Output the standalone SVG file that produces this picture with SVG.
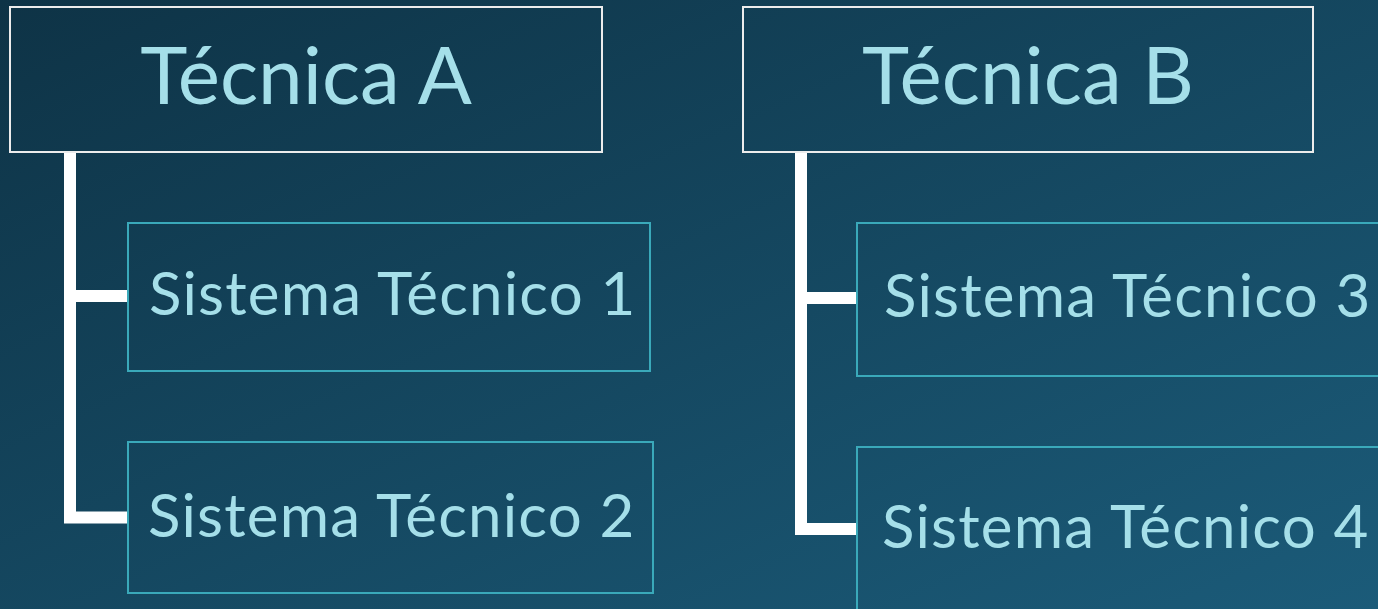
<svg xmlns="http://www.w3.org/2000/svg" width="1378" height="609" viewBox="0 0 1378 609">
  <defs>
    <linearGradient id="bg" x1="0" y1="0" x2="1" y2="1">
      <stop offset="0" stop-color="#0e3346"/>
      <stop offset="1" stop-color="#1b5b79"/>
    </linearGradient>
    <style>
      .head rect { fill: none; stroke: #ececec; stroke-width: 2; }
      .child rect { fill: none; stroke: #3aa9ba; stroke-width: 2; }
      text { font-family: Lato, "Liberation Sans", sans-serif; fill: #a5dfe9; }
      .head text { font-size: 80px; text-anchor: middle; }
      .child text { font-size: 60px; letter-spacing: 1.2px; }
      .conn { fill: none; stroke: #ffffff; stroke-width: 12; stroke-linejoin: miter; stroke-linecap: butt; }
    </style>
  </defs>

  <rect width="1378" height="609" fill="url(#bg)"/>

  <!-- connectors -->
  <g id="connectors">
    <path class="conn" d="M70 152 V517.5 H129"/>
    <path class="conn" d="M70 296 H129"/>
    <path class="conn" d="M801 152 V529 H858"/>
    <path class="conn" d="M801 298 H858"/>
  </g>

  <!-- Técnica A tree -->
  <g id="tecnica-a" class="head">
    <rect x="10" y="7" width="592" height="145"/>
    <text x="306" y="104">Técnica A</text>
  </g>
  <g id="sistema-1" class="child">
    <rect x="128" y="223" width="522" height="148"/>
    <text x="149" y="315">Sistema Técnico 1</text>
  </g>
  <g id="sistema-2" class="child">
    <rect x="128" y="442" width="525" height="151"/>
    <text x="148" y="537">Sistema Técnico 2</text>
  </g>

  <!-- Técnica B tree -->
  <g id="tecnica-b" class="head">
    <rect x="743" y="7" width="570" height="145"/>
    <text x="1028" y="104">Técnica B</text>
  </g>
  <g id="sistema-3" class="child">
    <rect x="857" y="223" width="540" height="153"/>
    <text x="884" y="317">Sistema Técnico 3</text>
  </g>
  <g id="sistema-4" class="child">
    <rect x="857" y="447" width="540" height="200"/>
    <text x="882" y="548">Sistema Técnico 4</text>
  </g>
</svg>
